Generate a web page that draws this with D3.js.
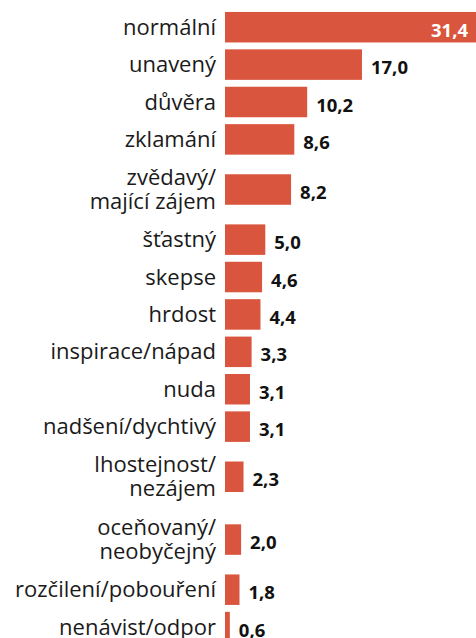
<!DOCTYPE html>
<html>
<head>
<meta charset="utf-8">
<script src="https://cdn.jsdelivr.net/npm/d3@7"></script>
<style>
  html, body { margin: 0; padding: 0; background: #fff; overflow: hidden; }
  svg { display: block; }
</style>
</head>
<body>
<div id="chart"></div>
<script>
// category labels, "\n" marks a line break
const categories = [
    "normální",
    "unavený",
    "důvěra",
    "zklamání",
    "zvědavý/\nmající zájem",
    "šťastný",
    "skepse",
    "hrdost",
    "inspirace/nápad",
    "nuda",
    "nadšení/dychtivý",
    "lhostejnost/\nnezájem",
    "oceňovaný/\nneobyčejný",
    "rozčilení/pobouření",
    "nenávist/odpor"
];
const values = [31.4, 17.0, 10.2, 8.6, 8.2, 5.0, 4.6, 4.4, 3.3, 3.1, 3.1, 2.3, 2.0, 1.8, 0.6];

const width = 476;
const height = 638;
const barLeft = 225;
const labelRight = 216;
const barHeight = 30.5;
const rowUnit = 1;
const twoLineUnit = 1.68;

const locale = d3.formatLocale({ decimal: ",", thousands: " ", grouping: [3], currency: ["", " Kč"] });
const fmt = locale.format(".1f");

let data = categories.map(function(c, i) {
    let lines = c.split("\n");
    return { name: c, lines: lines, value: values[i], size: lines.length > 1 ? twoLineUnit : rowUnit };
});

// running position of each row in row units
let acc = 0;
data.forEach(function(d) {
    d.start = acc;
    acc += d.size;
    d.mid = d.start + d.size / 2;
});

let x = d3.scaleLinear()
    .domain([0, 31.4])
    .range([barLeft, barLeft + 253]);

let y = d3.scaleLinear()
    .domain([0, acc])
    .range([8.5, 8.5 + acc * 37.4]);

let svg = d3.select("#chart")
    .append("svg")
    .attr("width", width)
    .attr("height", height);

let rows = svg.selectAll("g.row")
    .data(data)
    .enter()
    .append("g")
    .attr("class", "row")
    .attr("transform", function(d) { return "translate(0," + y(d.mid) + ")"; });

rows.append("rect")
    .attr("x", x(0))
    .attr("y", -barHeight / 2)
    .attr("width", function(d) { return x(d.value) - x(0); })
    .attr("height", barHeight)
    .attr("fill", "#da553e");

rows.append("text")
    .attr("text-anchor", "end")
    .attr("x", labelRight)
    .attr("font-family", "'Open Sans', sans-serif")
    .attr("font-size", 22)
    .attr("fill", "#1a1a1a")
    .selectAll("tspan")
    .data(function(d) { return d.lines.map(function(l, i) { return { text: l, i: i, n: d.lines.length }; }); })
    .enter()
    .append("tspan")
    .attr("x", labelRight)
    .attr("y", function(t) { return 7.5 - (t.n - 1) * 12 + t.i * 23.5; })
    .text(function(t) { return t.text; });

rows.append("text")
    .attr("font-family", "'Open Sans', sans-serif")
    .attr("font-weight", "bold")
    .attr("font-size", 18.5)
    .attr("y", 9.5)
    .text(function(d) { return fmt(d.value); })
    .each(function(d) {
        let t = d3.select(this);
        let w = this.getComputedTextLength();
        let end = x(d.value);
        if (end + 9 + w > width) {
            t.attr("x", end - 10).attr("text-anchor", "end").attr("fill", "#fff");
        } else {
            t.attr("x", end + 9).attr("text-anchor", "start").attr("fill", "#111");
        }
    });
</script>
</body>
</html>
